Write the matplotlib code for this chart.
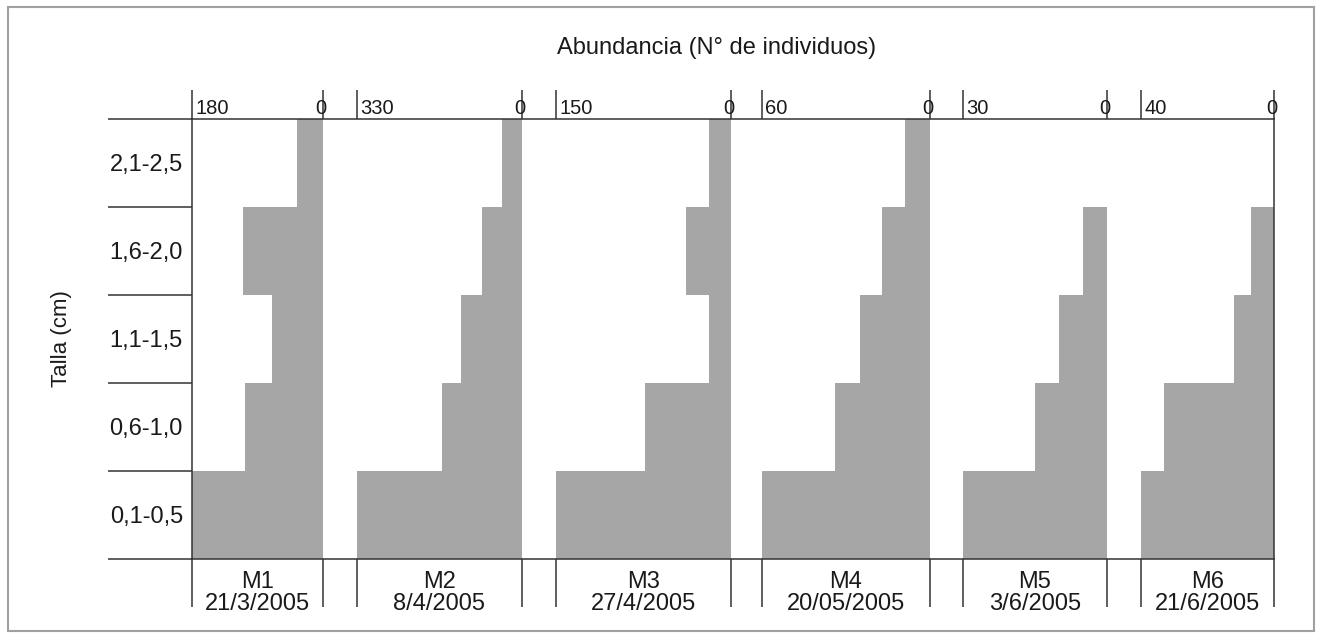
import matplotlib
matplotlib.use("Agg")
import matplotlib.pyplot as plt
from matplotlib.lines import Line2D
from matplotlib.patches import Rectangle

plt.rcParams["font.family"] = ["Liberation Sans", "DejaVu Sans"]

# data (bottom to top)
categories = ["0,1-0,5", "0,6-1,0", "1,1-1,5", "1,6-2,0", "2,1-2,5"]
samples = ["M1", "M2", "M3", "M4", "M5", "M6"]
dates = ["21/3/2005", "8/4/2005", "27/4/2005", "20/05/2005", "3/6/2005", "21/6/2005"]
axis_max = [180, 330, 150, 60, 30, 40]

m1 = [180, 107, 70, 110, 36]
m2 = [330, 160, 122, 80, 40]
m3 = [150, 74, 19, 39, 19]
m4 = [60, 34, 25, 17, 9]
m5 = [30, 15, 10, 5, 0]
m6 = [40, 33, 12, 7, 0]
series = [m1, m2, m3, m4, m5, m6]

W, H = 1322, 639
# panel edges in pixels
edges = [(192, 323), (357, 522), (556, 731), (762, 930), (963, 1107), (1141, 1274)]
y_top, y_bot = 119, 559

line_col = "#333333"
bar_col = "#a6a6a6"
txt_col = "#1a1a1a"
lw = 1.1

fig = plt.figure(figsize=(W / 100, H / 100), dpi=100)

for i, (x0, x1) in enumerate(edges):
    ax = fig.add_axes((x0 / W, 1 - y_bot / H, (x1 - x0) / W, (y_bot - y_top) / H))
    ypos = list(range(len(categories)))
    ax.barh([y + 0.5 for y in ypos], series[i], height=1.0, color=bar_col, linewidth=0)
    ax.set_xlim(axis_max[i], 0)
    ax.set_ylim(0, len(categories))

    for s in ax.spines.values():
        s.set_visible(False)
    if i == 0:
        ax.spines["left"].set_visible(True)
    if i == len(edges) - 1:
        ax.spines["right"].set_visible(True)
    for s in ax.spines.values():
        s.set_color(line_col)
        s.set_linewidth(lw)

    # top ticks (major), bottom ticks (minor) at the panel edges
    ax.xaxis.remove_overlapping_locs = False
    ax.set_xticks([axis_max[i], 0])
    ax.set_xticks([axis_max[i], 0], minor=True)
    ax.tick_params(axis="x", which="major", top=True, bottom=False, labeltop=False,
                   labelbottom=False, direction="out", length=21, width=lw, color=line_col)
    ax.tick_params(axis="x", which="minor", top=False, bottom=True, labelbottom=False,
                   direction="out", length=34.5, width=lw, color=line_col)

    if i == 0:
        ax.set_yticks(range(len(categories) + 1))
        ax.set_yticks([y + 0.5 for y in ypos], minor=True)
        ax.set_yticklabels(categories, minor=True)
        ax.tick_params(axis="y", which="major", left=True, labelleft=False,
                       direction="out", length=60.5, width=lw, color=line_col)
        ax.tick_params(axis="y", which="minor", left=True, length=0, pad=6.5,
                       labelsize=17, labelcolor=txt_col)
    else:
        ax.set_yticks([])

    # axis-range labels on top
    ax.annotate(str(axis_max[i]), xy=(axis_max[i], 1), xycoords=("data", "axes fraction"),
                xytext=(2.5, 0.5), textcoords="offset points", ha="left", va="bottom",
                fontsize=14.5, color=txt_col)
    ax.annotate("0", xy=(0, 1), xycoords=("data", "axes fraction"),
                xytext=(2.5, 0.5), textcoords="offset points", ha="right", va="bottom",
                fontsize=14.5, color=txt_col)

    # sample name and date under the panel
    ax.annotate(samples[i], xy=(0.5, 0), xycoords="axes fraction", xytext=(0, -8.5),
                textcoords="offset points", ha="center", va="top", fontsize=17, color=txt_col)
    ax.annotate(dates[i], xy=(0.5, 0), xycoords="axes fraction", xytext=(0, -24.5),
                textcoords="offset points", ha="center", va="top", fontsize=17, color=txt_col)

# horizontal rules across the gaps
for yy in (y_top, y_bot):
    fig.add_artist(Line2D([edges[0][0] / W, edges[-1][1] / W], [1 - yy / H, 1 - yy / H],
                          transform=fig.transFigure, color=line_col, linewidth=lw))

fig.text(717 / W, 1 - 48 / H, "Abundancia (N° de individuos)", ha="center", va="center",
         fontsize=17, color=txt_col)
fig.text(62 / W, 1 - 339 / H, "Talla (cm)", ha="center", va="center", rotation=90,
         fontsize=16, color=txt_col)

# outer frame
fig.add_artist(Rectangle((8 / W, 1 - 631 / H), (1314 - 8) / W, (631 - 7) / H,
                         transform=fig.transFigure, fill=False, edgecolor="#a0a0a0", linewidth=1.5))

fig.savefig("out.png", dpi=100)
